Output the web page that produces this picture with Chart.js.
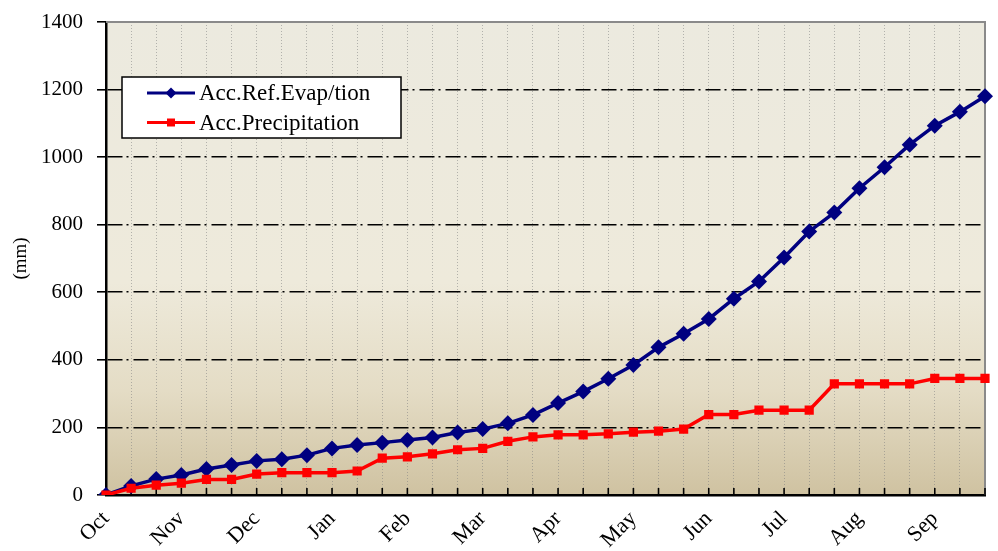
<!DOCTYPE html>
<html><head><meta charset="utf-8">
<script src="https://cdn.jsdelivr.net/npm/chart.js@4.4.0/dist/chart.umd.min.js"></script>
<style>html,body{margin:0;padding:0;background:#fff;}#wrap{width:998px;height:551px;}</style>
</head><body><div id="wrap"><canvas id="c" width="998" height="551"></canvas></div>
<script>
// Tick labels (one per month, first ten-day period of each month)
const months = ['Oct','Nov','Dec','Jan','Feb','Mar','Apr','May','Jun','Jul','Aug','Sep'];
// Categories: three ten-day periods per month
const categories = [];
months.forEach(m => { categories.push(m + ' 1', m + ' 2', m + ' 3'); });
// Series (mm, accumulated)
const evapLabel = 'Acc.Ref.Evap/tion';
const evap = [0,27,47,59,77,89,101,106,118,138,148,155,163,170,185,195,212,237,272,306,344,385,437,477,521,581,632,703,780,836,908,970,1037,1093,1134,1180];
const precipLabel = 'Acc.Precipitation';
const precip = [0,20,29,35,46,46,62,66,66,66,71,109,113,122,134,138,159,172,178,178,181,186,189,195,238,238,251,251,251,329,329,329,329,345,345,345];
const yTicks = [0,200,400,600,800,1000,1200,1400];

const SERIF = '"Liberation Serif", "DejaVu Serif", serif';

const bgPlugin = {
  id: 'bg',
  beforeDraw(chart) {
    const {ctx, chartArea: a} = chart;
    const g = ctx.createLinearGradient(0, a.top, 0, a.bottom);
    g.addColorStop(0, '#ECEADF');
    g.addColorStop(0.55, '#EEEADB');
    g.addColorStop(0.78, '#E4DCC5');
    g.addColorStop(1, '#CFC2A1');
    ctx.save();
    ctx.fillStyle = g;
    ctx.fillRect(a.left, a.top, a.right - a.left, a.bottom - a.top);
    ctx.restore();
  },
  beforeDatasetsDraw(chart) {
    const {ctx, chartArea: a, scales} = chart;
    ctx.save();
    ctx.strokeStyle = '#8a8a8a';
    ctx.lineWidth = 2;
    ctx.beginPath();
    ctx.moveTo(a.left, a.top); ctx.lineTo(a.right, a.top); ctx.lineTo(a.right, a.bottom);
    ctx.stroke();
    ctx.strokeStyle = '#000';
    ctx.lineWidth = 1.6;
    const xs = scales.x;
    for (let i = 0; i < categories.length; i++) {
      const x = xs.getPixelForTick(i);
      ctx.beginPath();
      ctx.moveTo(x, a.bottom); ctx.lineTo(x, a.bottom - 7);
      ctx.stroke();
    }
    ctx.restore();
  },
  afterDraw(chart) {
    const {ctx} = chart;
    const x0 = 122, y0 = 77, w = 279, h = 61;
    ctx.save();
    ctx.fillStyle = '#fff';
    ctx.fillRect(x0, y0, w, h);
    ctx.strokeStyle = '#000';
    ctx.lineWidth = 1.5;
    ctx.strokeRect(x0, y0, w, h);
    const items = [chart.data.datasets[1], chart.data.datasets[0]];
    const ys = [93, 122.5];
    items.forEach((ds, k) => {
      const y = ys[k];
      ctx.strokeStyle = ds.borderColor;
      ctx.lineWidth = 3;
      ctx.beginPath(); ctx.moveTo(147, y); ctx.lineTo(195, y); ctx.stroke();
      ctx.fillStyle = ds.borderColor;
      ctx.beginPath();
      if (ds.pointStyle === 'rectRot') {
        ctx.moveTo(171, y - 5.5); ctx.lineTo(176.5, y); ctx.lineTo(171, y + 5.5); ctx.lineTo(165.5, y); ctx.closePath();
      } else {
        ctx.rect(167, y - 4, 8, 8);
      }
      ctx.fill();
      ctx.fillStyle = '#000';
      ctx.font = '23px ' + SERIF;
      ctx.textBaseline = 'middle';
      ctx.textAlign = 'left';
      ctx.fillText(ds.label, 199, y + 1);
    });
    ctx.restore();
  }
};

new Chart(document.getElementById('c'), {
  type: 'line',
  data: {
    labels: categories,
    datasets: [
      {
        label: precipLabel, data: precip, order: 0,
        borderColor: '#FF0000', backgroundColor: '#FF0000',
        borderWidth: 3.5, pointStyle: 'rect', pointRadius: 6.5, pointHoverRadius: 6.5,
        pointBorderWidth: 0, tension: 0, fill: false
      },
      {
        label: evapLabel, data: evap, order: 1,
        borderColor: '#000080', backgroundColor: '#000080',
        borderWidth: 3.5, pointStyle: 'rectRot', pointRadius: 8, pointHoverRadius: 8,
        pointBorderWidth: 0, tension: 0, fill: false
      }
    ]
  },
  options: {
    responsive: false, animation: false, devicePixelRatio: 1,
    layout: { padding: { top: 22, right: 13, left: 0, bottom: 0 } },
    plugins: { legend: { display: false }, tooltip: { enabled: false } },
    scales: {
      x: {
        type: 'category', offset: false,
        grid: { display: true, drawOnChartArea: true, drawTicks: false, color: 'rgba(130,130,130,0.55)', lineWidth: 1 },
        border: { display: true, color: '#000', width: 2.5, dash: [1, 2] },
        ticks: {
          autoSkip: false, maxRotation: 45, minRotation: 45, padding: 11, color: '#000',
          font: { family: SERIF, size: 22 },
          callback: (v, i) => (i % 3 === 0 ? months[i / 3] : '')
        },
        afterFit: s => { s.height = 56; s.paddingLeft = 0; s.paddingRight = 0; }
      },
      y: {
        min: 0, max: 1400,
        afterBuildTicks: s => { s.ticks = yTicks.map(v => ({ value: v })); },
        grid: {
          color: c => (c.tick && (c.tick.value === 0 || c.tick.value === 1400)) ? 'rgba(0,0,0,0)' : '#000',
          lineWidth: 1.6, tickLength: 9, tickColor: '#000', tickWidth: 1.6
        },
        border: { display: true, color: '#000', width: 2.5, dash: [15, 4, 2, 5] },
        ticks: { padding: 14, color: '#000', font: { family: SERIF, size: 21 }, callback: v => String(v) },
        title: { display: true, text: '(mm)', color: '#000', font: { family: SERIF, size: 19 }, padding: { top: 10, bottom: 0 } },
        afterFit: s => { s.width = 106; s.paddingTop = 0; s.paddingBottom = 0; }
      }
    }
  },
  plugins: [bgPlugin]
});
</script>
</body></html>
